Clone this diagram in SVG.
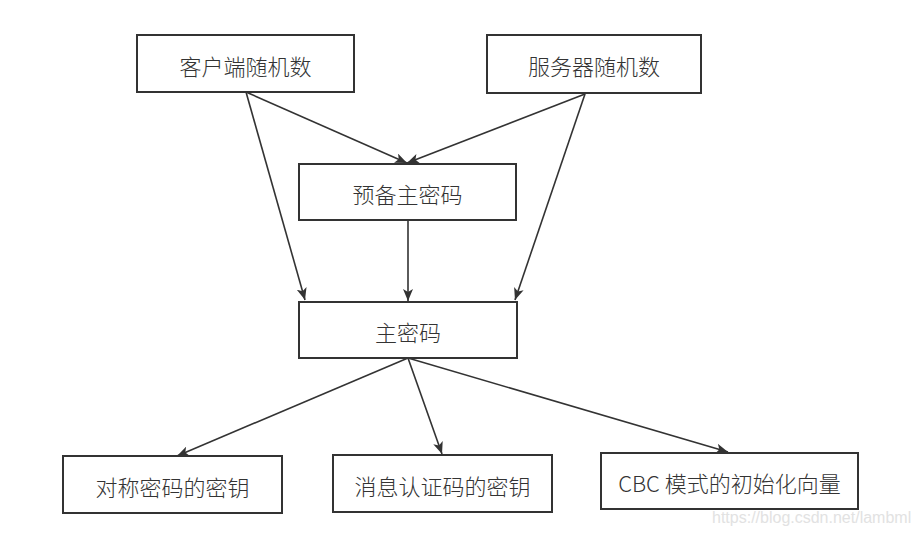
<svg xmlns="http://www.w3.org/2000/svg" width="919" height="533" viewBox="0 0 919 533">
<defs>
<marker id="arr" viewBox="0 0 12 10" refX="12" refY="5" markerWidth="12" markerHeight="10" markerUnits="userSpaceOnUse" orient="auto">
<path d="M0,0 L12,5 L0,10 L3,5 Z" fill="#333"/>
</marker>
</defs>
<style>
.box rect{fill:#fff;stroke:#333;stroke-width:2}
.box text{font-family:"Noto Sans CJK SC","Noto Sans",sans-serif;font-size:22px;font-weight:300;fill:#333;text-anchor:middle;dominant-baseline:central}
#connectors line{stroke:#333;stroke-width:1.6;marker-end:url(#arr)}
.wm{font-family:"Liberation Sans",Arial,sans-serif;font-size:16px;fill:#e2e2e2}
</style>
<rect width="919" height="533" fill="#fff"/>
<g id="connectors">
<line x1="246" y1="92" x2="305" y2="300"/>
<line x1="246" y1="92" x2="407" y2="163"/>
<line x1="585" y1="94" x2="407" y2="163"/>
<line x1="585" y1="94" x2="515" y2="300"/>
<line x1="408" y1="220" x2="408" y2="301"/>
<line x1="408" y1="358" x2="177" y2="456"/>
<line x1="408" y1="358" x2="442" y2="454"/>
<line x1="408" y1="358" x2="728" y2="452"/>
</g>
<g id="client" class="box"><rect x="137" y="35" width="217" height="57"/><text x="245.5" y="64.5">客户端随机数</text></g>
<g id="server" class="box"><rect x="487" y="35" width="214" height="58"/><text x="594" y="65">服务器随机数</text></g>
<g id="premaster" class="box"><rect x="299" y="164" width="217" height="56"/><text x="407.5" y="193">预备主密码</text></g>
<g id="master" class="box"><rect x="299" y="302" width="218" height="56"/><text x="408" y="331">主密码</text></g>
<g id="symkey" class="box"><rect x="63" y="456" width="219" height="57"/><text x="172.5" y="485.5">对称密码的密钥</text></g>
<g id="mackey" class="box"><rect x="333" y="455" width="219" height="57"/><text x="442.5" y="484.5">消息认证码的密钥</text></g>
<g id="iv" class="box"><rect x="601" y="453" width="257" height="56"/><text x="729.5" y="482">CBC 模式的初始化向量</text></g>
<text class="wm" x="712" y="523">https://blog.csdn.net/lambml</text>
</svg>
